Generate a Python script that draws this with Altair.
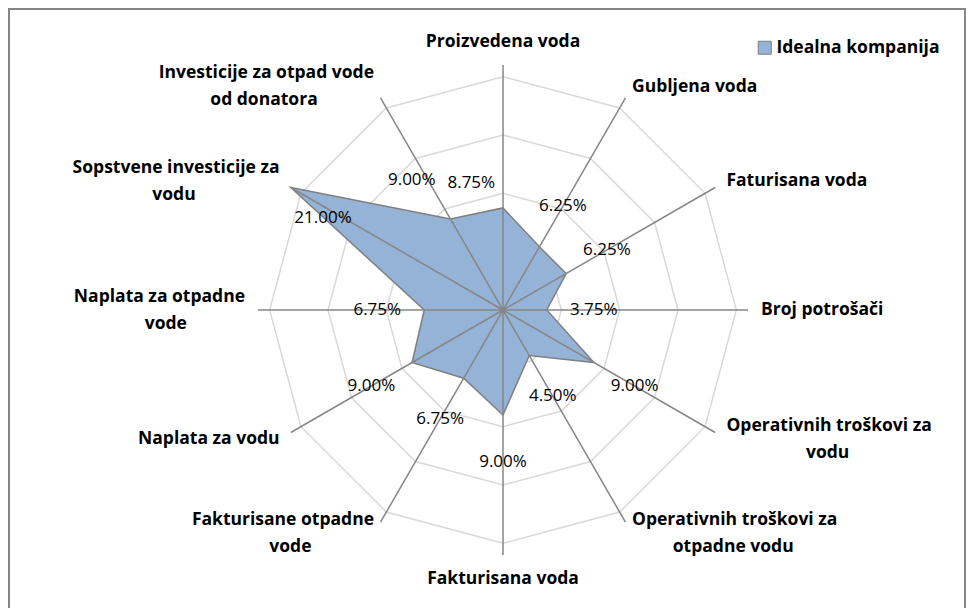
import altair as alt
import pandas as pd

# ---------------- data ----------------
categories = [
    "Proizvedena voda",
    "Gubljena voda",
    "Faturisana voda",
    "Broj potrošači",
    "Operativnih troškovi za\nvodu",
    "Operativnih troškovi za\notpadne vodu",
    "Fakturisana voda",
    "Fakturisane otpadne\nvode",
    "Naplata za vodu",
    "Naplata za otpadne\nvode",
    "Sopstvene investicije za\nvodu",
    "Investicije za otpad vode\nod donatora",
]
values = [8.75, 6.25, 6.25, 3.75, 9.00, 4.50, 9.00, 6.75, 9.00, 6.75, 21.00, 9.00]
ring_levels = [5, 10, 15, 20]
axis_max = 21
series_name = "Idealna kompanija"

# ---------------- geometry / style (code, not data) ----------------
N = len(categories)
R_PX = 245.0               # pixel radius of axis_max
PX = axis_max / R_PX       # data units per pixel
W, H = 958, 600
CX, CY = 495, 302          # centre inside the view (px)
XDOM = [-CX * PX, (W - CX) * PX]
YDOM = [-(H - CY) * PX, CY * PX]
FONT = "Open Sans"
FS = 17.5                  # category labels (bold)
VFS = 17                   # value labels
LH = 27
CW = 8.8                   # approx. char width of bold label font (px)

xs = alt.Scale(domain=XDOM, nice=False, zero=False)
ys = alt.Scale(domain=YDOM, nice=False, zero=False)
theta = f"datum.i * 2 * PI / {N}"

df = pd.DataFrame({
    "i": list(range(N)),
    "category": categories,
    "value": values,
    "series": [series_name] * N,
})
df["line1"] = [c.split("\n")[0] for c in categories]
df["line2"] = [c.split("\n")[1] if "\n" in c else "" for c in categories]

rings = pd.DataFrame([{"level": lv, "i": i} for lv in ring_levels for i in range(N)])

X = lambda f: alt.X(f, type="quantitative", scale=xs, axis=None)
Y = lambda f: alt.Y(f, type="quantitative", scale=ys, axis=None)

# chart-area border (its bottom edge lies below the visible page, as in the original)
border_layer = alt.Chart(pd.DataFrame({"k": [0]})).mark_rect(
    fill="transparent", stroke="#868686", strokeWidth=2
).encode(x=alt.value(1), x2=alt.value(W - 1), y=alt.value(1), y2=alt.value(H + 20))

# rings
ring_layer = alt.Chart(rings).transform_calculate(
    th=theta
).transform_calculate(
    x="datum.level * sin(datum.th)", y="datum.level * cos(datum.th)"
).mark_line(interpolate="linear-closed", stroke="#D9D9D9", strokeWidth=1.5).encode(
    x=X("x"), y=Y("y"), detail="level:N", order="i:Q"
)

# data polygon
poly_layer = alt.Chart(df).transform_calculate(
    th=theta
).transform_calculate(
    x="datum.value * sin(datum.th)", y="datum.value * cos(datum.th)"
).mark_line(interpolate="linear-closed", stroke="#7F7F7F", strokeWidth=1.5).encode(
    x=X("x"), y=Y("y"), order="i:Q",
    fill=alt.Fill("series:N", scale=alt.Scale(range=["#95B3D7"]),
                  legend=alt.Legend(title=None, orient="none", legendX=748, legendY=31,
                                    symbolType="square", symbolSize=169,
                                    symbolStrokeColor="#7F7F7F", symbolStrokeWidth=1,
                                    labelFont=FONT, labelFontSize=FS, labelFontWeight="bold",
                                    labelColor="black", labelOffset=3, labelLimit=0,
                                    padding=0)),
)

# spokes
spoke_layer = alt.Chart(df).transform_calculate(
    th=theta
).transform_calculate(
    x0="0", y0="0",
    xe=f"{axis_max} * sin(datum.th)", ye=f"{axis_max} * cos(datum.th)"
).mark_rule(stroke="#868686", strokeWidth=1.5).encode(
    x=X("x0"), y=Y("y0"), x2="xe:Q", y2="ye:Q"
)

# value labels: placed radially outside the point; the largest one inside;
# two labels near the top nudged sideways as in the original
vmax = max(values)
DEG = "PI / 180"
val_layer = alt.Chart(df).transform_calculate(
    th=theta,
    txt="format(datum.value, '.2f') + '%'",
).transform_calculate(
    lth=(f"datum.i == 0 ? datum.th - 14 * {DEG} : "
         f"(datum.i == {N - 1} ? datum.th - 5 * {DEG} : "
         f"(datum.value == {vmax} ? datum.th - 3 * {DEG} : datum.th))"),
    lr=(f"datum.i == 0 ? datum.value + {29 * PX} : "
        f"(datum.i == {N - 1} ? datum.value + {54 * PX} : "
        f"(datum.value == {vmax} ? datum.value - {43 * PX} : datum.value + {47 * PX}))"),
).transform_calculate(
    lx="datum.lr * sin(datum.lth)", ly="datum.lr * cos(datum.lth)"
).mark_text(font=FONT, fontSize=VFS, color="black", align="center", baseline="middle").encode(
    x=X("lx"), y=Y("ly"), text="txt:N"
)

# category labels
ra = axis_max + 13 * PX
lab_base = alt.Chart(df).transform_calculate(
    th=theta
).transform_calculate(
    s="sin(datum.th)", c="cos(datum.th)",
    nl="datum.line2 == '' ? 1 : 2",
).transform_calculate(
    side="abs(datum.s) < 0.01 ? 'C' : (datum.s > 0 ? 'L' : 'R')",
    ax=f"{ra} * datum.s",
    ay=f"{ra} * datum.c",
).transform_calculate(
    vshift=f"datum.side == 'C' ? datum.c * ((datum.nl - 1) * {LH} + {FS * 1.2}) / 2 * {PX} : 0",
).transform_calculate(
    y1=f"datum.ay + datum.vshift + (datum.nl - 1) * {LH / 2 * PX}",
).transform_calculate(
    y2=f"datum.y1 - {LH * PX}",
    x2=(f"datum.side == 'L' ? datum.ax + length(datum.line1) * {CW / 2 * PX} : "
        f"(datum.side == 'R' ? datum.ax - length(datum.line1) * {CW / 2 * PX} : datum.ax)"),
)

lab_layers = []
for side, align in [("L", "left"), ("R", "right"), ("C", "center")]:
    lab_layers.append(
        lab_base.transform_filter(f"datum.side == '{side}'").mark_text(
            font=FONT, fontSize=FS, fontWeight="bold", color="black",
            align=align, baseline="middle"
        ).encode(x=X("ax"), y=Y("y1"), text="line1:N")
    )
lab_layers.append(
    lab_base.transform_filter("datum.line2 != ''").mark_text(
        font=FONT, fontSize=FS, fontWeight="bold", color="black",
        align="center", baseline="middle"
    ).encode(x=X("x2"), y=Y("y2"), text="line2:N")
)

chart = alt.layer(
    border_layer, ring_layer, poly_layer, spoke_layer, val_layer, *lab_layers
).properties(
    width=W, height=H, padding=0, autosize=alt.AutoSizeParams(type="none"),
    background="white",
).configure_view(strokeWidth=0)

chart.save("out.html", embed_options={"renderer": "svg", "actions": False})
